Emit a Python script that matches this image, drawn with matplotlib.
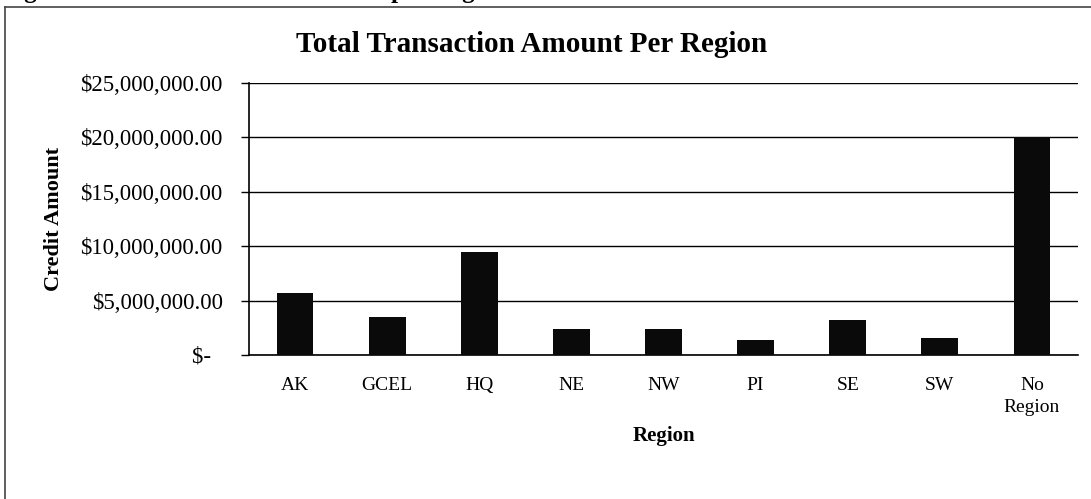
import matplotlib
matplotlib.use("Agg")
import matplotlib.pyplot as plt
from matplotlib.lines import Line2D

regions = ["AK", "GCEL", "HQ", "NE", "NW", "PI", "SE", "SW", "No\nRegion"]
amounts = [5670000, 3520000, 9490000, 2360000, 2360000, 1380000, 3220000, 1530000, 20000000]
yticks = [0, 5000000, 10000000, 15000000, 20000000, 25000000]
ytick_labels = ["$-  ", "$5,000,000.00", "$10,000,000.00", "$15,000,000.00",
                "$20,000,000.00", "$25,000,000.00"]

plt.rcParams["font.family"] = ["Liberation Serif", "DejaVu Serif"]

fig = plt.figure(figsize=(10.91, 4.99), dpi=100)
ax = fig.add_axes([0.2282, 0.2886, 0.9881 - 0.2282, 0.8337 - 0.2886])

x = range(len(regions))
ax.bar(x, amounts, width=0.4, color="#0a0a0a", zorder=3)

ax.set_xlim(-0.5, len(regions) - 0.5)
ax.set_ylim(0, 25000000)
ax.set_yticks(yticks)
ax.set_yticklabels(ytick_labels, fontsize=16.5)
ax.set_xticks(list(x))
ax.set_xticklabels(regions, fontsize=14, linespacing=1.4, va="top")

ax.yaxis.grid(True, color="black", linewidth=1.0, zorder=0)
ax.tick_params(axis="x", length=0, pad=16)
ax.tick_params(axis="y", length=6, width=1, pad=13, direction="out")
for s in ["top", "right"]:
    ax.spines[s].set_visible(False)
ax.spines["left"].set_linewidth(1.2)
ax.spines["bottom"].set_linewidth(1.2)

ax.set_ylabel("Credit Amount", fontsize=16, fontweight="bold", labelpad=12)
ax.set_xlabel("Region", fontsize=15, fontweight="bold", labelpad=7)
fig.text(0.487, 0.91, "Total Transaction Amount Per Region", ha="center", va="center",
         fontsize=21, fontweight="bold")

# clipped caption above the chart box
fig.text(0.002, 1.005, "Figure 5: Total Transaction Amount per Region", ha="left",
         va="baseline", fontsize=18, fontweight="bold")

# chart box border (left and top edges visible)
fig.add_artist(Line2D([4.5 / 1091, 4.5 / 1091], [0, 1 - 7 / 499], transform=fig.transFigure,
                      color="#444444", linewidth=1.2))
fig.add_artist(Line2D([4.5 / 1091, 1], [1 - 7 / 499, 1 - 7 / 499], transform=fig.transFigure,
                      color="#444444", linewidth=1.2))

fig.savefig("out.png", dpi=100)
